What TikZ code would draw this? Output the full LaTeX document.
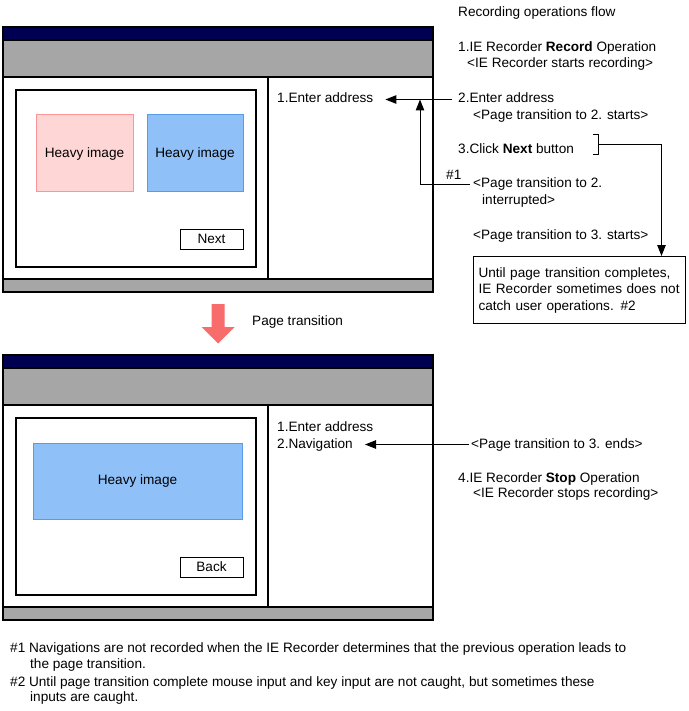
\documentclass[tikz,border=0pt]{standalone}
\usepackage{fontspec}
\setmainfont{Liberation Sans}
\usetikzlibrary{arrows.meta}
\definecolor{navybar}{RGB}{0,0,82}
\definecolor{graybar}{RGB}{166,166,166}
\definecolor{pinkfill}{RGB}{255,214,214}
\definecolor{pinkline}{RGB}{250,150,150}
\definecolor{bluefill}{RGB}{143,193,248}
\definecolor{blueline}{RGB}{88,155,232}
\definecolor{redarrow}{RGB}{248,108,108}
\newcommand{\mfont}{\fontsize{13.6}{16.5}\selectfont}
\tikzset{
  txt/.style={inner sep=0pt, anchor=base west, font=\mfont, text height=10pt, text depth=3pt},
  arr/.style={-{Triangle[length=11pt,width=8.5pt]}, line width=1pt},
  imgpink/.style={draw=pinkline, fill=pinkfill, line width=1pt, font=\mfont, inner sep=0pt},
  imgblue/.style={draw=blueline, fill=bluefill, line width=1pt, font=\mfont, inner sep=0pt},
  btn/.style={draw, line width=1pt, fill=white, font=\mfont, inner sep=0pt, minimum width=63pt, minimum height=20pt},
  browser/.pic={
    \fill[navybar] (0,0) rectangle (430,13);
    \fill[graybar] (0,13) rectangle (430,50);
    \fill[graybar] (0,252) rectangle (430,265);
    \draw[line width=1.1pt] (0,0) rectangle (430,265);
    \draw[line width=1.1pt] (0,13) -- (430,13);
    \draw[line width=1.1pt] (0,50) -- (430,50);
    \draw[line width=1.1pt] (0,252) -- (430,252);
    \draw[line width=1.1pt] (265,50) -- (265,252);
    \draw[line width=1.1pt] (13,63) rectangle (253,240);
  }
}
\begin{document}
\begin{tikzpicture}[x=1pt,y=-1pt]
\useasboundingbox (0,0) rectangle (688,711);
\fill[white] (0,0) rectangle (688,711);

% ---- top window ----
\pic at (3,27) {browser};
\node[imgpink, minimum width=97pt, minimum height=77pt] (img1) at (84.5,153.5) {Heavy image};
\node[imgblue, minimum width=96pt, minimum height=77pt] (img2) at (195,153.5) {Heavy image};
\node[btn] (next) at (211.5,239) {Next};
\node[txt] (e1) at (277,103) {1.Enter address};

% ---- right-hand flow ----
\node[txt] (title) at (458,17) {Recording operations flow};
\node[txt] (s1) at (458,52) {1.IE Recorder \textbf{Record} Operation};
\node[txt] (s1b) at (467,68) {<IE Recorder starts recording>};
\node[txt] (s2) at (458,103) {2.Enter address};
\node[txt] (s2b) at (473,120) {<Page transition to 2. starts>};
\node[txt] (s3) at (458,154) {3.Click \textbf{Next} button};
\node[txt] (h1) at (446,180) {\#1};
\node[txt] (s3b) at (473,188) {<Page transition to 2.};
\node[txt] (s3c) at (482,205) {interrupted>};
\node[txt] (s3d) at (473,239) {<Page transition to 3. starts>};
\node[draw, line width=1pt, anchor=north west, minimum width=212pt, minimum height=67pt,
      text width=202pt, align=left, inner xsep=5pt, inner ysep=0pt, font=\mfont] (note) at (473,256)
      {Until page transition completes,\\IE Recorder sometimes does not\\catch user operations. \#2};

% arrows top
\coordinate (a2s) at ([xshift=-6pt]s2.west);
\coordinate (a2e) at ([xshift=12pt]e1.east);
\draw[arr] (a2s) -- (a2e);
\coordinate (j1) at (420,99.5);
\draw[arr] ([xshift=-3pt]s3b.west) -| (j1);
% bracket
\coordinate (brk) at (598,145);
\draw[line width=1pt] (593,135) -- (598,135) -- (598,155) -- (593,155);
\draw[arr] (brk) -| ([xshift=82pt]note.north);

% ---- page transition arrow ----
\fill[redarrow] (211.5,304) -- (224.5,304) -- (224.5,327) -- (234.5,327) -- (218,343.5) -- (201.5,327) -- (211.5,327) -- cycle;
\node[txt] (pt) at (252,325) {Page transition};

% ---- bottom window ----
\pic at (3,355) {browser};
\node[imgblue, minimum width=209pt, minimum height=76pt] (img3) at (137.5,481) {Heavy image};
\node[btn] (back) at (211.5,567) {Back};
\node[txt] (b1) at (277,431) {1.Enter address};
\node[txt] (b2) at (277,448) {2.Navigation};
\node[txt] (s4a) at (471,448) {<Page transition to 3. ends>};
\node[txt] (s4) at (458,482) {4.IE Recorder \textbf{Stop} Operation};
\node[txt] (s4b) at (473,497) {<IE Recorder stops recording>};
\draw[arr] ([xshift=-2pt]s4a.west) -- ([xshift=12pt]b2.east);

% ---- footnotes ----
\node[txt] (f1a) at (10,652) {\#1 Navigations are not recorded when the IE Recorder determines that the previous operation leads to};
\node[txt] (f1b) at (30,668) {the page transition.};
\node[txt] (f2a) at (10,686) {\#2 Until page transition complete mouse input and key input are not caught, but sometimes these};
\node[txt] (f2b) at (30,701) {inputs are caught.};
\end{tikzpicture}
\end{document}
